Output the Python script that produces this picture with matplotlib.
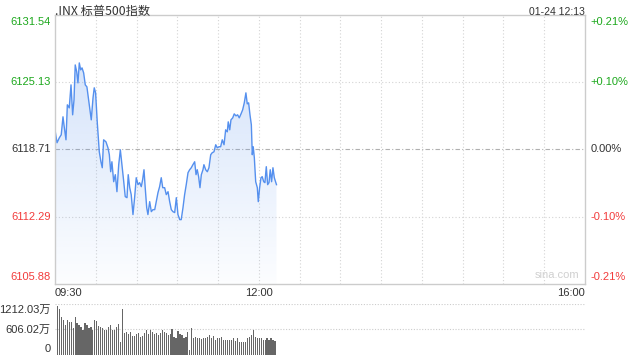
import numpy as np
import matplotlib
matplotlib.use("Agg")
import matplotlib.pyplot as plt

# 标普500 分时 (minutes after 09:30)
minutes = [0, 1.5, 3.2, 4.6, 5.9, 6.8, 8.1, 9.1, 10.5, 11.8, 13.0, 14.0, 14.9, 16.0, 16.9,
           17.9, 18.9, 19.9, 21.1, 22.3, 23.5, 25.2, 26.7, 28.0, 28.9, 29.9, 31.1, 32.6,
           33.8, 34.8, 35.8, 37.5, 39.0, 40.0, 41.0, 41.9, 43.2, 44.4, 45.6, 46.9, 48.1,
           49.3, 50.6, 51.7, 53.0, 53.9, 55.0, 56.1, 57.4, 58.6, 59.8, 61.1, 62.3, 63.5,
           64.5, 65.5, 66.4, 67.5, 68.4, 69.7, 70.9, 72.1, 73.4, 74.5, 75.8, 77.0, 78.2,
           79.3, 80.7, 81.9, 83.2, 84.4, 85.6, 86.8, 88.1, 89.3, 90.5, 91.8, 92.9, 94.2,
           95.4, 96.6, 97.9, 99.1, 100.3, 101.5, 102.8, 103.8, 104.7, 105.7, 106.7, 107.7,
           108.9, 109.6, 110.9, 112.1, 113.3, 114.6, 115.7, 117.0, 118.3, 119.4, 120.7,
           121.9, 123.1, 124.4, 125.6, 126.8, 127.5, 128.6, 129.5, 130.8, 131.9, 133.2,
           134.4, 135.6, 136.9, 138.1, 139.3, 140.5, 141.5, 142.5, 143.5, 144.5, 145.2,
           145.9, 146.7, 147.7, 148.9, 149.6, 150.6, 151.6, 152.5, 153.6, 154.5, 155.5,
           156.5, 157.5, 158.4, 159.4, 160.4, 161.4, 163.0]
prices = [6120.56, 6119.33, 6119.80, 6120.09, 6121.80, 6120.85, 6119.61, 6122.94, 6122.65,
          6124.84, 6121.99, 6123.41, 6126.74, 6126.08, 6125.03, 6126.93, 6126.27, 6126.46,
          6125.98, 6124.84, 6124.65, 6122.94, 6121.51, 6123.61, 6124.56, 6124.08, 6121.32,
          6118.47, 6117.52, 6116.95, 6119.61, 6119.42, 6118.85, 6118.19, 6116.57, 6117.52,
          6115.62, 6116.29, 6114.67, 6117.24, 6118.66, 6117.24, 6115.62, 6114.20, 6114.10,
          6116.29, 6115.05, 6114.39, 6112.49, 6114.10, 6116.00, 6115.34, 6115.53, 6115.15,
          6115.81, 6116.76, 6115.05, 6113.15, 6112.49, 6113.72, 6112.77, 6112.96, 6112.96,
          6113.72, 6114.58, 6115.15, 6116.00, 6115.05, 6115.05, 6114.39, 6114.67, 6113.72,
          6112.96, 6112.77, 6112.68, 6114.10, 6112.49, 6112.01, 6112.01, 6113.15, 6114.39,
          6115.34, 6116.48, 6116.76, 6116.95, 6117.24, 6117.52, 6116.29, 6116.76, 6116.10,
          6115.05, 6116.29, 6116.76, 6117.24, 6116.76, 6116.57, 6116.95, 6118.19, 6118.38,
          6118.47, 6119.14, 6118.85, 6118.95, 6118.95, 6119.61, 6119.14, 6120.56, 6120.37,
          6121.32, 6120.56, 6121.51, 6121.70, 6122.08, 6121.89, 6121.99, 6121.70, 6122.08,
          6122.46, 6123.13, 6124.08, 6123.03, 6123.13, 6121.99, 6121.04, 6118.19, 6118.95,
          6117.90, 6115.62, 6115.05, 6113.72, 6115.05, 6116.00, 6116.10, 6115.62, 6115.53,
          6117.05, 6115.34, 6115.53, 6116.76, 6115.62, 6116.95, 6116.00, 6115.34]

# 成交量 (万)
vols = [1173, 1093, 896, 832, 713, 832, 792, 792, 634, 896, 753, 713, 673, 594, 753, 713,
        634, 673, 594, 832, 808, 697, 658, 634, 594, 594, 673, 713, 594, 594, 658, 729, 317,
        1093, 515, 539, 491, 539, 460, 460, 491, 515, 436, 460, 515, 594, 491, 594, 555, 491,
        515, 475, 515, 594, 555,
        515, 475, 491, 610, 436, 412, 578, 491, 475, 396, 436, 539, 119, 634, 412, 436, 412,
        412, 380, 396, 396, 436, 475, 412, 460, 357, 396, 412, 436, 357, 357, 357, 357, 357,
        396, 333, 396, 317, 301, 317, 317, 396, 436, 475, 594, 436, 412, 396, 396, 357, 357,
        396, 357, 412, 357, 341]
vol_first, vol_last = 1.7, 161.9

prev_close = 6118.71
price_ticks = [6105.88, 6112.29, 6118.71, 6125.13, 6131.54]
pct_labels = ["-0.21%", "-0.10%", "0.00%", "+0.10%", "+0.21%"]
vol_ticks = [0, 606.02, 1212.03]
vol_labels = ["0", "606.02万", "1212.03万"]

GREEN = "#1ca81c"
RED = "#f23c3c"
DARK = "#333333"
LINE = "#5590ee"
FONT = ["Liberation Sans", "Noto Sans CJK SC"]

fig = plt.figure(figsize=(6.4, 3.6), dpi=100)
ax = fig.add_axes([0.0859, 0.2111, 0.8281, 0.7486])
axv = fig.add_axes([0.0859, 0.0139, 0.8281, 0.1417])

ymin, ymax = price_ticks[0], price_ticks[-1]

# grid
for t in range(30, 390, 30):
    ax.axvline(t, color="#d4d4d4", lw=0.8, ls=(0, (1, 2)), zorder=0)
for p in (price_ticks[1], price_ticks[3]):
    ax.axhline(p, color="#d4d4d4", lw=0.8, ls=(0, (1, 2)), zorder=0)
ax.axhline(prev_close, color="#b0b0b0", lw=0.8, ls=(0, (4, 2, 1, 2)), zorder=0)

# gradient fill under line
poly = ax.fill_between(minutes, prices, ymin, facecolor="none", edgecolor="none")
grad = np.linspace(0.28, 0.02, 256).reshape(-1, 1)
rgba = np.zeros((256, 1, 4))
rgba[..., :3] = matplotlib.colors.to_rgb("#6a9ef0")
rgba[..., 3] = grad
top = max(prices)
im = ax.imshow(rgba, extent=[0, 390, ymin, top], aspect="auto", origin="upper", zorder=1)
im.set_clip_path(poly.get_paths()[0], transform=ax.transData)
ax.set_ylim(ymin, ymax)
ax.set_xlim(0, 390)

ax.plot(minutes, prices, color=LINE, lw=1.0, zorder=2)

for s in ax.spines.values():
    s.set_color("#cccccc")
    s.set_linewidth(1)
ax.set_xticks([])
ax.set_yticks([])

# y labels
trans = ax.get_yaxis_transform()
for i, (p, lab) in enumerate(zip(price_ticks, pct_labels)):
    c = RED if p < prev_close else (GREEN if p > prev_close else DARK)
    va = "bottom" if i == 0 else ("top" if i == len(price_ticks) - 1 else "center")
    off = 1.5 if i == 0 else (-1.5 if i == len(price_ticks) - 1 else 0)
    ax.annotate(f"{p:.2f}", (0, p), xycoords=trans, xytext=(-3, off), textcoords="offset points",
                ha="right", va=va, color=c, fontsize=8, family=FONT)
    ax.annotate(lab, (1, p), xycoords=trans, xytext=(4, off), textcoords="offset points",
                ha="left", va=va, color=c, fontsize=8, family=FONT)

# time labels
ax.annotate("09:30", (0, 0), xycoords="axes fraction", xytext=(0, -3), textcoords="offset points",
            ha="left", va="top", color=DARK, fontsize=8, family=FONT)
ax.annotate("12:00", (150 / 390, 0), xycoords="axes fraction", xytext=(0, -3), textcoords="offset points",
            ha="center", va="top", color=DARK, fontsize=8, family=FONT)
ax.annotate("16:00", (1, 0), xycoords="axes fraction", xytext=(0, -3), textcoords="offset points",
            ha="right", va="top", color=DARK, fontsize=8, family=FONT)

ax.text(0.99, 0.015, "sina.com", transform=ax.transAxes, ha="right", va="bottom",
        color="#d0d0d0", fontsize=8, family=FONT)

fig.text(0.0859, 0.985, ".INX 标普500指数", ha="left", va="top", color=DARK, fontsize=8.8,
         family=["Noto Sans CJK SC", "DejaVu Sans"])
fig.text(0.914, 0.98, "01-24 12:13", ha="right", va="top", color=DARK, fontsize=7.5, family=FONT)

# volume
vol_t = np.linspace(vol_first, vol_last, len(vols))
axv.bar(vol_t, vols, width=0.85, color="#666666", linewidth=0, zorder=2)
axv.set_xlim(0, 390)
axv.set_ylim(0, vol_ticks[-1])
for v in vol_ticks[1:]:
    axv.axhline(v, color="#cccccc", lw=0.8, ls=(0, (1, 1.5)), zorder=0)
for s in axv.spines.values():
    s.set_visible(False)
axv.set_xticks([])
axv.set_yticks([])
vtrans = axv.get_yaxis_transform()
for i, (v, lab) in enumerate(zip(vol_ticks, vol_labels)):
    va = "bottom" if i == 0 else ("top" if i == len(vol_ticks) - 1 else "center")
    off = 1 if i == 0 else (-1 if i == len(vol_ticks) - 1 else 0)
    axv.annotate(lab, (0, v), xycoords=vtrans, xytext=(-3, off), textcoords="offset points",
                 ha="right", va=va, color=DARK, fontsize=8, family=FONT)

fig.savefig("out.png", dpi=100)
